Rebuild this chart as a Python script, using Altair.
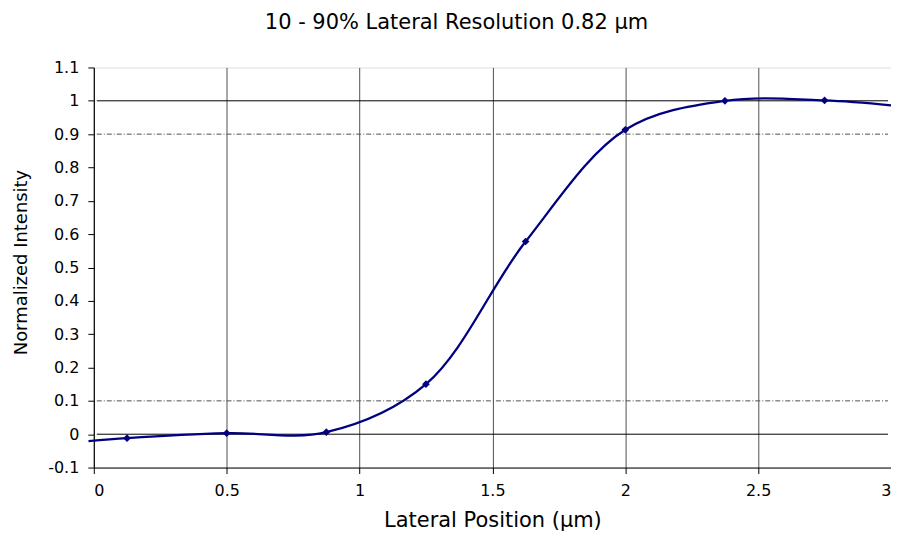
import altair as alt
import pandas as pd

# Data
x_pts = [0.125, 0.5, 0.875, 1.25, 1.625, 2.0, 2.375, 2.75]
y_pts = [-0.012, 0.003, 0.006, 0.15, 0.578, 0.913, 1.0, 1.001]
# curve end extensions (smoothed line runs slightly past the markers)
x_curve = [-0.02] + x_pts + [3.03]
y_curve = [-0.021] + y_pts + [0.984]

solid_levels = [0, 1]
dashdot_levels = [0.1, 0.9]
x_ticks = [0, 0.5, 1, 1.5, 2, 2.5, 3]
y_ticks = [-0.1, 0, 0.1, 0.2, 0.3, 0.4, 0.5, 0.6, 0.7, 0.8, 0.9, 1.0, 1.1]

pts = pd.DataFrame({"x": x_pts, "y": y_pts})
curve = pd.DataFrame({"x": x_curve, "y": y_curve})
solid = pd.DataFrame({"y": solid_levels})
dashdot = pd.DataFrame({"y": dashdot_levels})

FONT = "DejaVu Sans"

xscale = alt.Scale(domain=[0, 3], nice=False, zero=False)
yscale = alt.Scale(domain=[-0.1, 1.1], nice=False, zero=False)

xaxis = alt.Axis(values=x_ticks, title="Lateral Position (µm)", grid=True,
                 gridColor="#505050", gridWidth=1, domainColor="#000000",
                 tickColor="#000000", tickSize=6, labelFontSize=16,
                 titleFontSize=21, titleFontWeight="normal", labelPadding=9,
                 titlePadding=11, labelColor="#000000", titleColor="#000000",
                 labelFont=FONT, titleFont=FONT,
                 labelExpr="toString(round(datum.value*10)/10)")
yaxis = alt.Axis(values=y_ticks, title="Normalized Intensity", grid=False,
                 domainColor="#000000", tickColor="#000000", tickSize=6,
                 labelFontSize=16, titleFontSize=18, titleFontWeight="normal",
                 labelPadding=9, titlePadding=17, labelColor="#000000",
                 titleColor="#000000", labelFont=FONT, titleFont=FONT,
                 titleY=195,
                 labelExpr="toString(round(datum.value*10)/10)")

base_x = alt.X("x:Q", scale=xscale, axis=xaxis)
base_y = alt.Y("y:Q", scale=yscale, axis=yaxis)

solid_rules = alt.Chart(solid).mark_rule(color="#000000", strokeWidth=1).encode(
    y=alt.Y("y:Q", scale=yscale, axis=yaxis),
    x=alt.value(3), x2=alt.value(796))
dd_rules = alt.Chart(dashdot).mark_rule(color="#505050", strokeWidth=1,
                                         strokeDash=[5, 2, 1, 2]).encode(
    y=alt.Y("y:Q", scale=yscale, axis=yaxis),
    x=alt.value(3), x2=alt.value(796))

line = alt.Chart(curve).mark_line(color="#000080", strokeWidth=2.3,
                                   interpolate="catmull-rom", clip=False).encode(
    x=base_x, y=base_y)
marks = alt.Chart(pts).mark_point(shape="diamond", filled=True, color="#000080",
                                   size=60, opacity=1).encode(x=base_x, y=base_y)

chart = alt.layer(solid_rules, dd_rules, line, marks).properties(
    width=799, height=401,
    title=alt.TitleParams("10 - 90% Lateral Resolution 0.82 µm", fontSize=21,
                          font=FONT, fontWeight="normal", color="#000000",
                          anchor="middle", offset=27, dx=-36),
    autosize=alt.AutoSizeParams(type="none"),
    padding={"left": 86, "top": 59, "right": 0, "bottom": 66},
).configure_view(stroke="#888888", strokeWidth=1).configure(background="white")

chart.save("out.html", embed_options={"renderer": "svg", "actions": False})
